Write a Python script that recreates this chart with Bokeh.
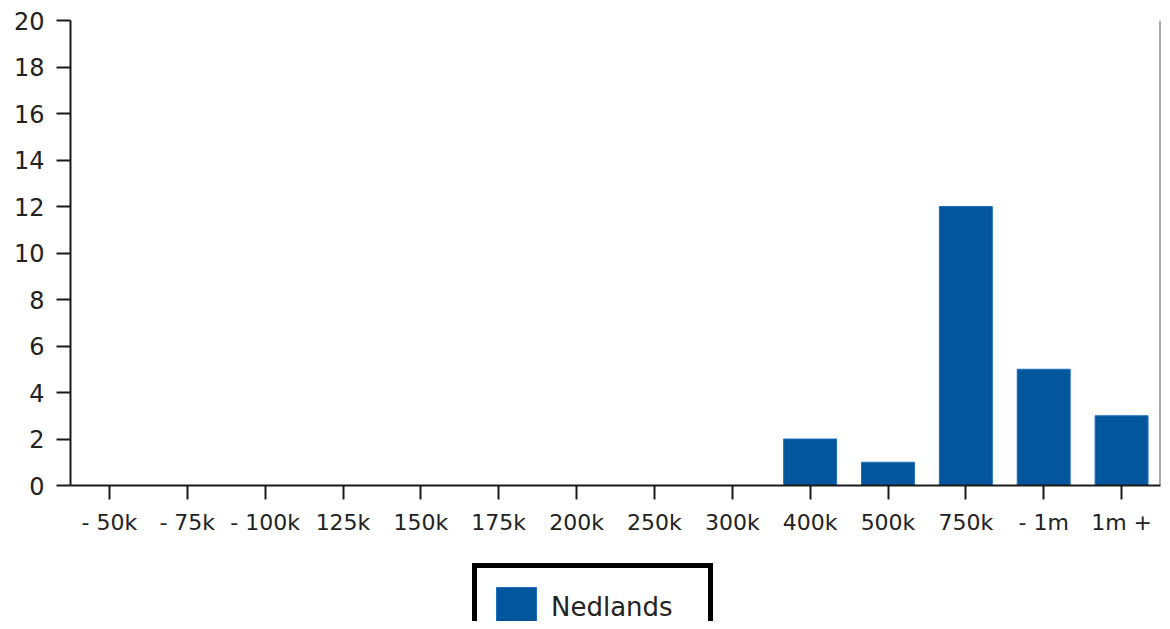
from bokeh.plotting import figure
from bokeh.layouts import column
from bokeh.models import FactorRange, Range1d, FixedTicker, Span, Legend, LegendItem, ColumnDataSource
from bokeh.embed import file_html
from bokeh.resources import INLINE

categories = ["- 50k", "- 75k", "- 100k", "125k", "150k", "175k", "200k", "250k",
              "300k", "400k", "500k", "750k", "- 1m", "1m +"]
values = [0, 0, 0, 0, 0, 0, 0, 0, 0, 2, 1, 12, 5, 3]
series_name = "Nedlands"
y_ticks = list(range(0, 21, 2))

BAR_FILL = "#03569c"
BAR_LINE = "#1f6fc0"

src = ColumnDataSource(dict(cat=categories, val=values))

p = figure(width=1162, height=560, x_range=FactorRange(factors=categories),
           y_range=Range1d(0, 20), output_backend="svg", toolbar_location=None,
           min_border_left=70, min_border_right=2, min_border_top=20, min_border_bottom=75)
p.outline_line_color = None
p.xgrid.grid_line_color = None
p.ygrid.grid_line_color = None

p.vbar(x="cat", top="val", width=0.68, source=src, fill_color=BAR_FILL,
       line_color=BAR_LINE, line_width=1)

for ax in (p.xaxis[0], p.yaxis[0]):
    ax.axis_line_color = "#1a1a1a"
    ax.axis_line_width = 2
    ax.major_tick_line_color = "#1a1a1a"
    ax.major_tick_line_width = 2
    ax.major_tick_out = 14
    ax.major_tick_in = 0
    ax.minor_tick_line_color = None
    ax.major_label_text_font = "DejaVu Sans"
    ax.major_label_text_color = "#222222"

p.yaxis[0].ticker = FixedTicker(ticks=y_ticks)
p.yaxis[0].major_label_text_font_size = "24px"
p.yaxis[0].major_label_standoff = 12
p.xaxis[0].major_label_text_font_size = "22px"
p.xaxis[0].major_label_standoff = 10

p.add_layout(Span(location=len(categories), dimension="height", line_color="#555555", line_width=2))

# legend strip below the chart (its swatch glyph sits outside the visible range)
p2 = figure(width=1162, height=61, x_range=Range1d(0, 1), y_range=Range1d(0, 1),
            output_backend="svg", toolbar_location=None, x_axis_type=None, y_axis_type=None,
            min_border_left=0, min_border_right=0, min_border_top=0, min_border_bottom=0)
p2.outline_line_color = None
p2.xgrid.grid_line_color = None
p2.ygrid.grid_line_color = None
lr = p2.vbar(x=[5], top=[-1], bottom=[-2], width=0.5, fill_color=BAR_FILL,
             line_color=BAR_LINE, line_width=1)

legend = Legend(items=[LegendItem(label=series_name, renderers=[lr])],
                location=(402, -30), orientation="vertical",
                border_line_color="black", border_line_width=5, border_line_alpha=1,
                background_fill_color="white", background_fill_alpha=1,
                padding=14, margin=0, spacing=0,
                glyph_width=50, glyph_height=50, label_standoff=10, label_width=143,
                label_text_font="DejaVu Sans", label_text_font_size="26px",
                label_text_color="#222222")
p2.add_layout(legend, "center")

layout = column(p, p2, spacing=0)
open("out.html", "w").write(file_html(layout, INLINE))
